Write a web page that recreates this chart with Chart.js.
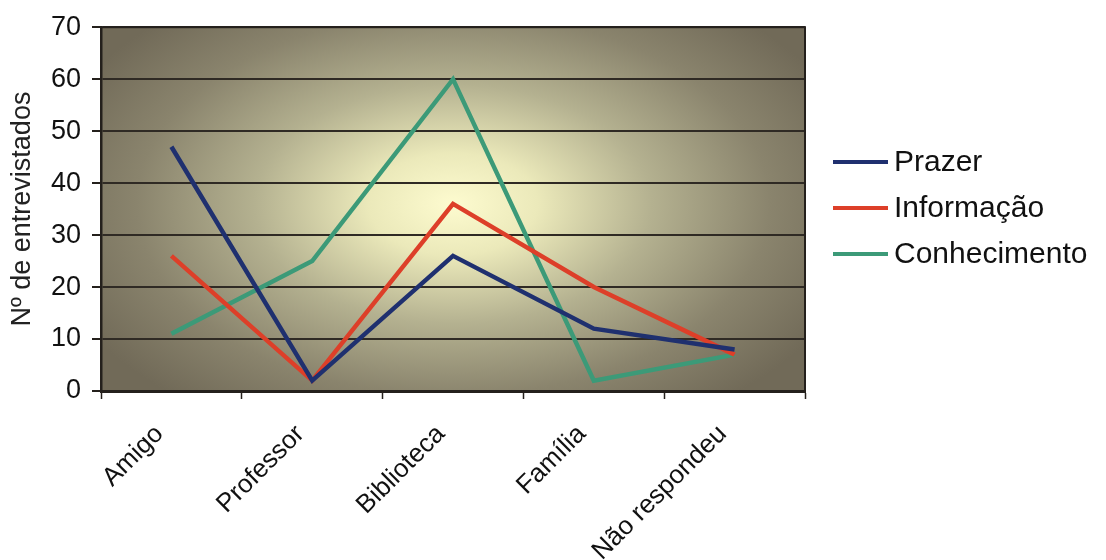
<!DOCTYPE html>
<html>
<head>
<meta charset="utf-8">
<script src="https://cdn.jsdelivr.net/npm/chart.js@4/dist/chart.umd.min.js"></script>
<style>
  html, body { margin: 0; padding: 0; background: #ffffff; }
  #wrap { width: 1106px; height: 560px; position: relative; }
</style>
</head>
<body>
<div id="wrap"><canvas id="c" width="1106" height="560"></canvas></div>
<script>
// Origem da indicação de leitura, por motivo
const categories = ['Amigo', 'Professor', 'Biblioteca', 'Família', 'Não respondeu'];
const prazer       = [47, 2, 26, 12, 8];
const informacao   = [26, 2, 36, 20, 7];
const conhecimento = [11, 25, 60, 2, 7];
const seriesNames  = ['Prazer', 'Informação', 'Conhecimento'];
const seriesColors = ['#1f306f', '#dd3f29', '#3c9a78'];
const yTicks = [0, 10, 20, 30, 40, 50, 60, 70];
const yTitle = 'Nº de entrevistados';

const FONT = '"Liberation Sans", Arial, sans-serif';

// Fundo da área de plotagem: degradê radial claro no centro
const plotBackground = {
  id: 'plotBackground',
  beforeDraw(chart) {
    const { ctx, chartArea: a } = chart;
    const cx = (a.left + a.right) / 2;
    const cy = (a.top + a.bottom) / 2 - 5;
    const rx = (a.right - a.left) * 0.6;
    const ry = (a.bottom - a.top) * 0.7;
    ctx.save();
    ctx.beginPath();
    ctx.rect(a.left, a.top, a.right - a.left, a.bottom - a.top);
    ctx.clip();
    ctx.translate(cx, cy);
    ctx.scale(rx / ry, 1);
    const g = ctx.createRadialGradient(0, 0, 0, 0, 0, ry);
    g.addColorStop(0.0, '#fdfbcf');
    g.addColorStop(0.2, '#ebe9ba');
    g.addColorStop(0.47, '#b4b190');
    g.addColorStop(0.75, '#8a846d');
    g.addColorStop(1.0, '#716a58');
    ctx.fillStyle = g;
    ctx.fillRect(-rx * 2, -ry * 2, rx * 4, ry * 4);
    ctx.restore();
  },
  afterDatasetsDraw(chart) {
    const { ctx, chartArea: a } = chart;
    ctx.save();
    ctx.strokeStyle = '#24201c';
    ctx.lineWidth = 2;
    ctx.strokeRect(a.left, a.top, a.right - a.left, a.bottom - a.top);
    ctx.restore();
  }
};

// Legenda desenhada à direita, com traço da cor de cada série
const sideLegend = {
  id: 'sideLegend',
  afterDraw(chart) {
    const { ctx } = chart;
    const x0 = 833, lineW = 55, gap = 6;
    const y0 = 162, step = 46;
    ctx.save();
    ctx.font = '30px ' + FONT;
    ctx.textBaseline = 'middle';
    ctx.textAlign = 'left';
    chart.data.datasets.forEach((ds, i) => {
      const y = y0 + i * step;
      ctx.strokeStyle = ds.borderColor;
      ctx.lineWidth = 4;
      ctx.beginPath();
      ctx.moveTo(x0, y);
      ctx.lineTo(x0 + lineW, y);
      ctx.stroke();
      ctx.fillStyle = '#111111';
      ctx.fillText(ds.label, x0 + lineW + gap, y + 1);
    });
    ctx.restore();
  }
};

const seriesData = [prazer, informacao, conhecimento];

new Chart(document.getElementById('c'), {
  type: 'line',
  data: {
    labels: categories,
    datasets: seriesData.map((d, i) => ({
      label: seriesNames[i],
      data: d,
      borderColor: seriesColors[i],
      backgroundColor: seriesColors[i],
      borderWidth: 4.5,
      pointRadius: 0,
      tension: 0,
      fill: false
    }))
  },
  options: {
    responsive: false,
    animation: false,
    events: [],
    layout: { padding: { left: 0, top: 24, right: 301, bottom: 0 } },
    plugins: {
      legend: { display: false },
      tooltip: { enabled: false }
    },
    scales: {
      x: {
        type: 'category',
        offset: true,
        grid: {
          offset: true,
          drawOnChartArea: false,
          drawTicks: true,
          tickLength: 8,
          tickColor: '#24201c',
          tickWidth: 1.5
        },
        border: { display: true, color: '#24201c', width: 3 },
        ticks: {
          autoSkip: false,
          minRotation: 45,
          maxRotation: 45,
          padding: 20,
          labelOffset: -12,
          color: '#111111',
          font: { family: FONT, size: 26 }
        },
        afterFit(scale) { scale.height = 169; }
      },
      y: {
        min: 0,
        max: 70,
        afterBuildTicks(scale) { scale.ticks = yTicks.map(v => ({ value: v })); },
        grid: {
          color: '#2f2a24',
          lineWidth: 2,
          drawTicks: true,
          tickLength: 9,
          tickColor: '#24201c'
        },
        border: { display: true, color: '#24201c', width: 2.5 },
        ticks: {
          padding: 11,
          color: '#111111',
          font: { family: FONT, size: 27 }
        },
        title: {
          display: true,
          text: yTitle,
          color: '#222222',
          font: { family: FONT, size: 27 },
          padding: { top: 6, bottom: 0 }
        },
        afterFit(scale) { scale.width = 101; }
      }
    }
  },
  plugins: [plotBackground, sideLegend]
});
</script>
</body>
</html>
